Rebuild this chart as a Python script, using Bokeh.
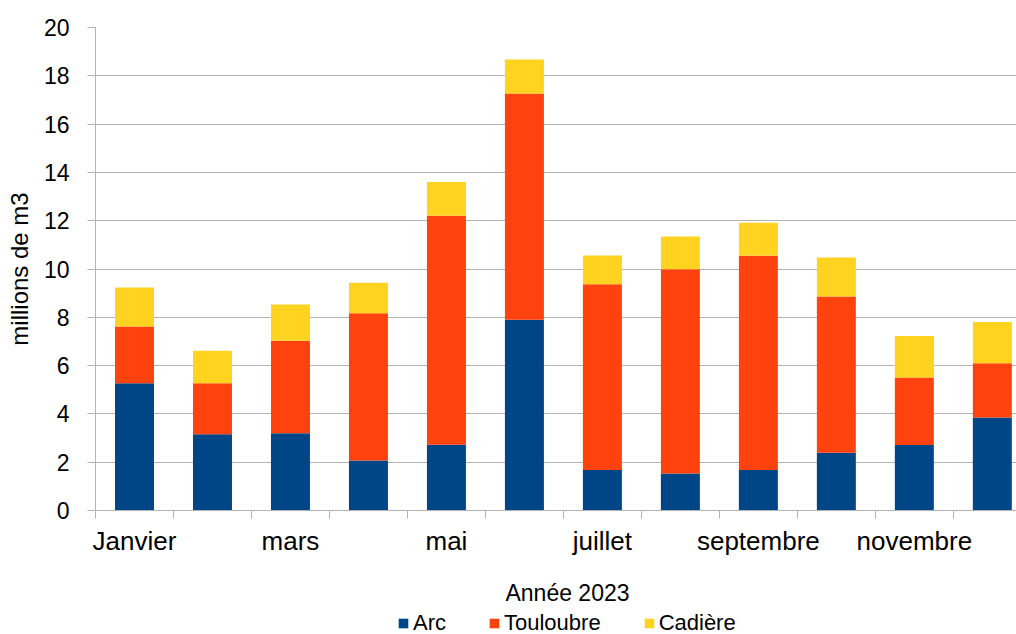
from bokeh.plotting import figure
from bokeh.layouts import column
from bokeh.models import (ColumnDataSource, FixedTicker, Range1d, Legend,
                          LegendItem, Label)
from bokeh.embed import file_html
from bokeh.resources import INLINE

# Monthly volumes per source, millions of m3 (2023)
months = ["Janvier", "février", "mars", "avril", "mai", "juin",
          "juillet", "août", "septembre", "octobre", "novembre", "décembre"]
arc = [5.27, 3.16, 3.20, 2.07, 2.72, 7.90, 1.68, 1.53, 1.68, 2.39, 2.71, 3.85]
touloubre = [2.35, 2.11, 3.83, 6.10, 9.49, 9.37, 7.69, 8.46, 8.87, 6.47, 2.80, 2.25]
cadiere = [1.61, 1.34, 1.50, 1.26, 1.39, 1.41, 1.19, 1.36, 1.36, 1.62, 1.72, 1.71]
series = ["Arc", "Touloubre", "Cadière"]
colors = ["#004586", "#ff420e", "#ffd320"]
y_ticks = list(range(0, 21, 2))

FONT = "Liberation Sans"
GRID = "#b3b3b3"

x = [i + 0.5 for i in range(len(months))]
src = ColumnDataSource(dict(x=x, Arc=arc, Touloubre=touloubre, Cadière=cadiere))

# ---- main chart -------------------------------------------------------
p = figure(width=1016, height=566, output_backend="svg", toolbar_location=None,
           x_range=Range1d(0, 11.81), y_range=Range1d(0, 20),
           min_border_left=95, min_border_right=0, min_border_top=27,
           min_border_bottom=56)
p.outline_line_color = None
p.background_fill_color = "white"
p.border_fill_color = "white"

p.vbar_stack(series, x="x", width=0.5, color=colors, source=src,
             line_color=None)

# x axis: tick marks between months, labels on every other month
xa = p.xaxis[0]
xa.ticker = FixedTicker(ticks=x[::2], minor_ticks=list(range(len(months) + 1)))
xa.major_label_overrides = {x[i]: months[i] for i in range(0, len(months), 2)}
xa.major_tick_out = 0
xa.major_tick_in = 0
xa.minor_tick_out = 8
xa.minor_tick_in = 0
xa.minor_tick_line_color = GRID
xa.axis_line_color = GRID
xa.major_label_standoff = 7
xa.major_label_text_font = FONT
xa.major_label_text_font_size = "26px"
xa.major_label_text_color = "black"

ya = p.yaxis[0]
ya.ticker = FixedTicker(ticks=y_ticks, minor_ticks=[])
ya.major_tick_out = 8
ya.major_tick_in = 0
ya.minor_tick_out = 0
ya.minor_tick_in = 0
ya.major_tick_line_color = GRID
ya.axis_line_color = GRID
ya.major_label_standoff = 18
ya.major_label_text_font = FONT
ya.major_label_text_font_size = "23px"
ya.major_label_text_color = "black"
ya.axis_label = "millions de m3"
ya.axis_label_text_font = FONT
ya.axis_label_text_font_size = "24px"
ya.axis_label_text_font_style = "normal"
ya.axis_label_text_color = "black"
ya.axis_label_standoff = 8

p.xgrid.grid_line_color = None
p.ygrid.grid_line_color = GRID
p.ygrid.ticker = ya.ticker

# ---- axis title and legend strip below the chart ----------------------
foot = figure(width=1016, height=68, output_backend="svg",
              toolbar_location=None, x_axis_type=None, y_axis_type=None,
              x_range=Range1d(-10, -9), y_range=Range1d(0, 1),
              min_border=0)
foot.outline_line_color = None
foot.background_fill_color = "white"
foot.border_fill_color = "white"

# legend swatches (the bars themselves fall outside this strip's range)
swatches = foot.vbar_stack(series, x="x", width=0.5, color=colors,
                           source=src, line_color=None)

foot.add_layout(Label(x=472, y=42, x_units="screen", y_units="screen",
                      text="Année 2023", text_align="center",
                      text_baseline="middle", text_font=FONT,
                      text_font_size="23px", text_color="black"))

legend = Legend(items=[LegendItem(label=s, renderers=[r])
                       for s, r in zip(series, swatches)],
                orientation="horizontal", location=(302, -2),
                spacing=42, glyph_width=12, glyph_height=12,
                label_standoff=4, padding=0, margin=0,
                border_line_color=None, background_fill_alpha=0,
                label_text_font=FONT, label_text_font_size="22px",
                label_text_color="black")
foot.add_layout(legend, "center")

open("out.html", "w").write(file_html(column(p, foot, spacing=0), INLINE))
